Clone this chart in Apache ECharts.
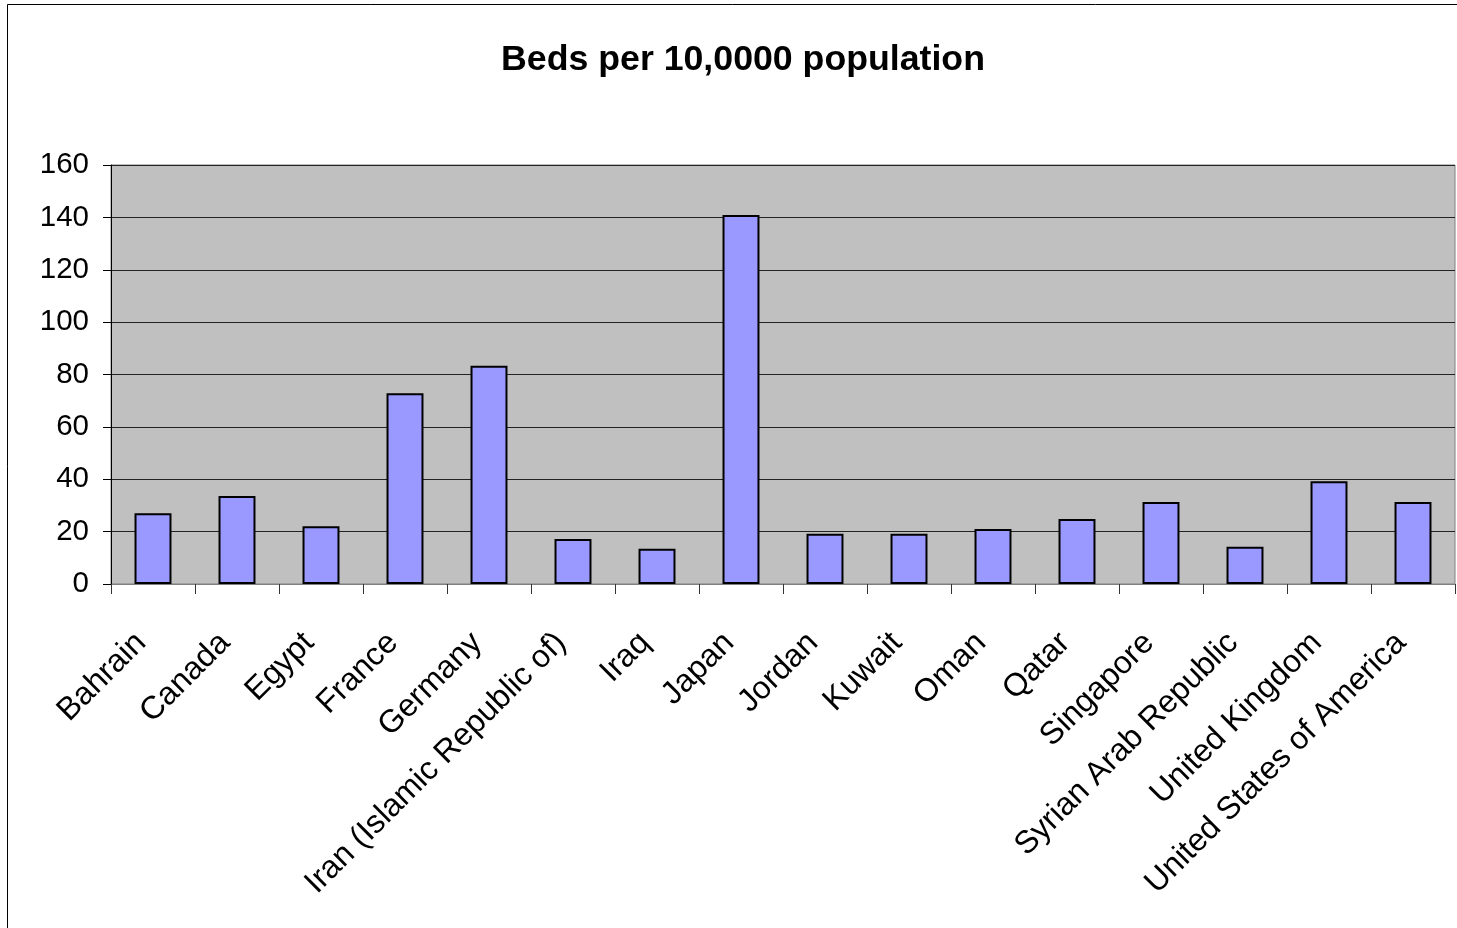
<!DOCTYPE html>
<html>
<head>
<meta charset="utf-8">
<script src="https://cdn.jsdelivr.net/npm/echarts@6/dist/echarts.min.js"></script>
<style>
html,body{margin:0;padding:0;background:#fff;}
#chart{width:1457px;height:928px;}
</style>
</head>
<body>
<div id="chart"></div>
<script>
const titleText = 'Beds per 10,0000 population';
const categories = ['Bahrain','Canada','Egypt','France','Germany','Iran (Islamic Republic of)','Iraq','Japan','Jordan','Kuwait','Oman','Qatar','Singapore','Syrian Arab Republic','United Kingdom','United States of America'];
const beds = [27, 33.6, 22.1, 72.8, 83.3, 17.2, 13.5, 140.9, 19.2, 19.2, 21, 24.8, 31.3, 14.2, 39.2, 31.3];
const yTicks = [0, 20, 40, 60, 80, 100, 120, 140, 160];

const chart = echarts.init(document.getElementById('chart'), null, {renderer:'canvas'});
const font = '"Liberation Sans", Arial, sans-serif';
chart.setOption({
  animation: false,
  backgroundColor: '#ffffff',
  title: {
    text: titleText,
    left: 738, top: 37, textAlign: 'center',
    textStyle: {fontFamily: font, fontSize: 35.7, fontWeight: 'bold', color: '#000'}
  },
  graphic: [
    {type:'rect', shape:{x:7.5, y:4.5, width:1500, height:1000}, style:{fill:'none', stroke:'#000', lineWidth:1}, silent:true, z:-10}
  ],
  grid: {left:111, right:2, top:165, bottom:344, show:true, backgroundColor:'#c0c0c0', borderColor:'#808080', borderWidth:1},
  xAxis: {
    type:'category', data: categories,
    axisLine:{show:true, lineStyle:{color:'#808080', width:1}},
    axisTick:{show:true, interval:0, length:10, alignWithLabel:false, lineStyle:{color:'#333'}},
    axisLabel:{interval:0, rotate:45, margin:42, padding:[0,17,0,0], fontFamily:font, fontSize:32, color:'#000'},
    splitLine:{show:false}
  },
  yAxis: {
    type:'value', min:0, max:160, interval:20,
    axisLine:{show:true, lineStyle:{color:'#000', width:1}},
    axisTick:{show:true, length:8, lineStyle:{color:'#000'}},
    axisLabel:{margin:22, fontFamily:font, fontSize:29.5, color:'#000',
      formatter: v => yTicks.includes(v) ? String(v) : ''},
    splitLine:{show:true, lineStyle:{color:'#222', width:1}}
  },
  series: [{
    type:'bar', data: beds, barWidth:'44%',
    itemStyle:{color:'#9999ff', borderColor:'#000', borderWidth:2}
  }]
});
</script>
</body>
</html>
